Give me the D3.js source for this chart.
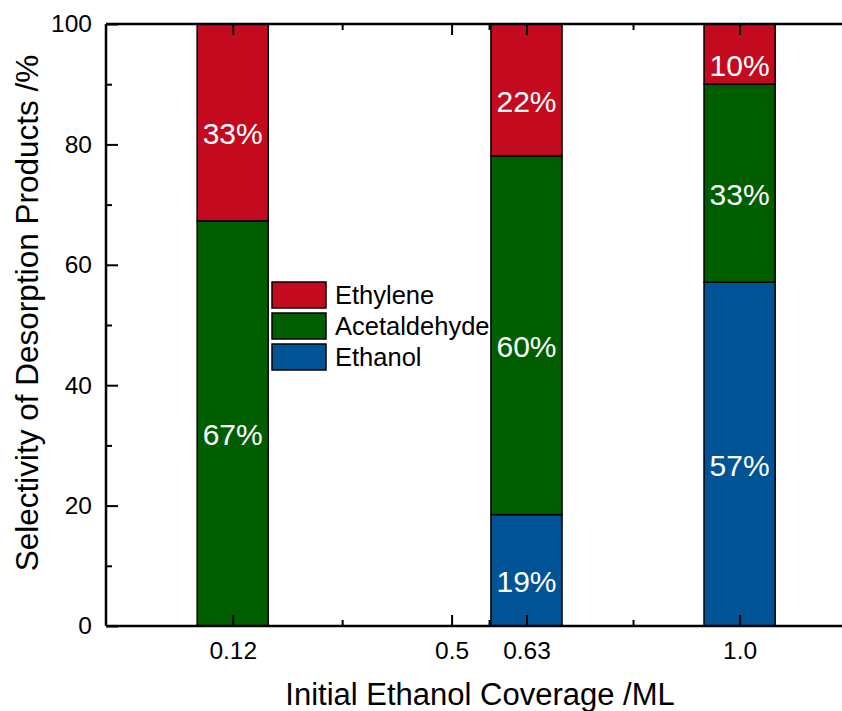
<!DOCTYPE html>
<html>
<head>
<meta charset="utf-8">
<script src="https://cdn.jsdelivr.net/npm/d3@7"></script>
<style>
  body { margin: 0; background: #fff; }
  text { font-family: Arial, "Liberation Sans", sans-serif; }
</style>
</head>
<body>
<div id="chart"></div>
<script>
// data
var coverages = [0.12, 0.63, 1.0]
var ethanol = [0, 18.5, 57.1]
var acetaldehyde = [67.3, 59.6, 32.9]
var ethylene = [32.7, 21.9, 10.0]

var seriesNames = ['Ethanol', 'Acetaldehyde', 'Ethylene']
var seriesColors = ['#005496', '#005e00', '#c40a1e']

var majorTicks = [0.12, 0.5, 0.63, 1.0]
var majorLabels = ['0.12', '0.5', '0.63', '1.0']
var minorTicks = [0.31, 0.565, 0.815]
var yTicks = [0, 20, 40, 60, 80, 100]
var yMinor = [10, 30, 50, 70, 90]

var width = 842
var height = 711
var margin = { top: 24, left: 106, bottom: 85 }
var plotBottom = height - margin.bottom

var svg = d3.select('#chart')
  .append('svg')
  .attr('width', width)
  .attr('height', height)

var x = d3.scaleLinear().domain([-0.1, 1.2]).range([margin.left, margin.left + 1.3 * 576])
var y = d3.scaleLinear().domain([0, 100]).range([plotBottom, margin.top])
var barW = x(0.1235) - x(0)

var rows = coverages.map(function(c, i) {
  return { cov: c, Ethanol: ethanol[i], Acetaldehyde: acetaldehyde[i], Ethylene: ethylene[i] }
})
var stacked = d3.stack().keys(seriesNames)(rows)

// legend (drawn first, bars go over it)
var legend = svg.append('g').attr('transform', 'translate(272,282)')
var legendOrder = ['Ethylene', 'Acetaldehyde', 'Ethanol']
legend.selectAll('rect')
  .data(legendOrder)
  .enter()
  .append('rect')
  .attr('x', 0)
  .attr('y', (d, i) => i * 31)
  .attr('width', 54)
  .attr('height', 26)
  .attr('fill', d => seriesColors[seriesNames.indexOf(d)])
  .attr('stroke', '#000')
  .attr('stroke-width', 1.5)
legend.selectAll('text')
  .data(legendOrder)
  .enter()
  .append('text')
  .attr('x', 63)
  .attr('y', (d, i) => i * 31 + 22)
  .attr('font-size', 25.5)
  .attr('fill', '#000')
  .text(d => d)

// bars
stacked.forEach(function(layer, li) {
  svg.append('g')
    .selectAll('rect')
    .data(layer.filter(d => d[1] - d[0] > 0))
    .enter()
    .append('rect')
    .attr('x', d => x(d.data.cov) - barW / 2)
    .attr('y', d => y(d[1]))
    .attr('width', barW)
    .attr('height', d => y(d[0]) - y(d[1]))
    .attr('fill', seriesColors[li])
    .attr('stroke', '#000')
    .attr('stroke-width', 1.5)
})

// value labels
stacked.forEach(function(layer) {
  svg.append('g')
    .selectAll('text')
    .data(layer.filter(d => d[1] - d[0] > 0))
    .enter()
    .append('text')
    .attr('x', d => x(d.data.cov))
    .attr('y', d => (y(d[0]) + y(d[1])) / 2 + 22)
    .attr('text-anchor', 'middle')
    .attr('font-size', 30)
    .attr('fill', '#fff')
    .text(d => Math.round(d[1] - d[0]) + '%')
})

// axes
var frame = svg.append('g')
frame.append('line')
  .attr('x1', margin.left).attr('x2', width)
  .attr('y1', plotBottom).attr('y2', plotBottom)
  .attr('stroke', '#000').attr('stroke-width', 2.5)
frame.append('line')
  .attr('x1', margin.left).attr('x2', width)
  .attr('y1', margin.top).attr('y2', margin.top)
  .attr('stroke', '#000').attr('stroke-width', 2.5)
frame.append('line')
  .attr('x1', margin.left).attr('x2', margin.left)
  .attr('y1', margin.top).attr('y2', plotBottom)
  .attr('stroke', '#000').attr('stroke-width', 2.5)

var xAxis = svg.append('g').attr('transform', `translate(0,${plotBottom})`)
  .call(d3.axisBottom(x).tickValues(majorTicks).tickSize(-11).tickPadding(16)
    .tickFormat((d, i) => majorLabels[i]))
xAxis.select('.domain').remove()
svg.append('g').attr('transform', `translate(0,${plotBottom})`)
  .call(d3.axisBottom(x).tickValues(minorTicks).tickSize(-6).tickFormat(''))
  .select('.domain').remove()
var xTop = svg.append('g').attr('transform', `translate(0,${margin.top})`)
  .call(d3.axisTop(x).tickValues(majorTicks).tickSize(-11).tickFormat(''))
xTop.select('.domain').remove()
svg.append('g').attr('transform', `translate(0,${margin.top})`)
  .call(d3.axisTop(x).tickValues(minorTicks).tickSize(-6).tickFormat(''))
  .select('.domain').remove()

var yAxis = svg.append('g').attr('transform', `translate(${margin.left},0)`)
  .call(d3.axisLeft(y).tickValues(yTicks).tickSize(-12).tickPadding(14))
yAxis.select('.domain').remove()
svg.append('g').attr('transform', `translate(${margin.left},0)`)
  .call(d3.axisLeft(y).tickValues(yMinor).tickSize(-6).tickFormat(''))
  .select('.domain').remove()

svg.selectAll('.tick line').attr('stroke', '#000').attr('stroke-width', 2)
svg.selectAll('.tick text')
  .attr('font-size', 24.5)
  .attr('fill', '#000')
  .attr('font-family', 'Arial, "Liberation Sans", sans-serif')

// titles
svg.append('text')
  .attr('x', 480)
  .attr('y', 705)
  .attr('text-anchor', 'middle')
  .attr('font-size', 31)
  .text('Initial Ethanol Coverage /ML')

svg.append('text')
  .attr('transform', 'translate(38,313) rotate(-90)')
  .attr('text-anchor', 'middle')
  .attr('font-size', 31.5)
  .text('Selectivity of Desorption Products /%')
</script>
</body>
</html>
